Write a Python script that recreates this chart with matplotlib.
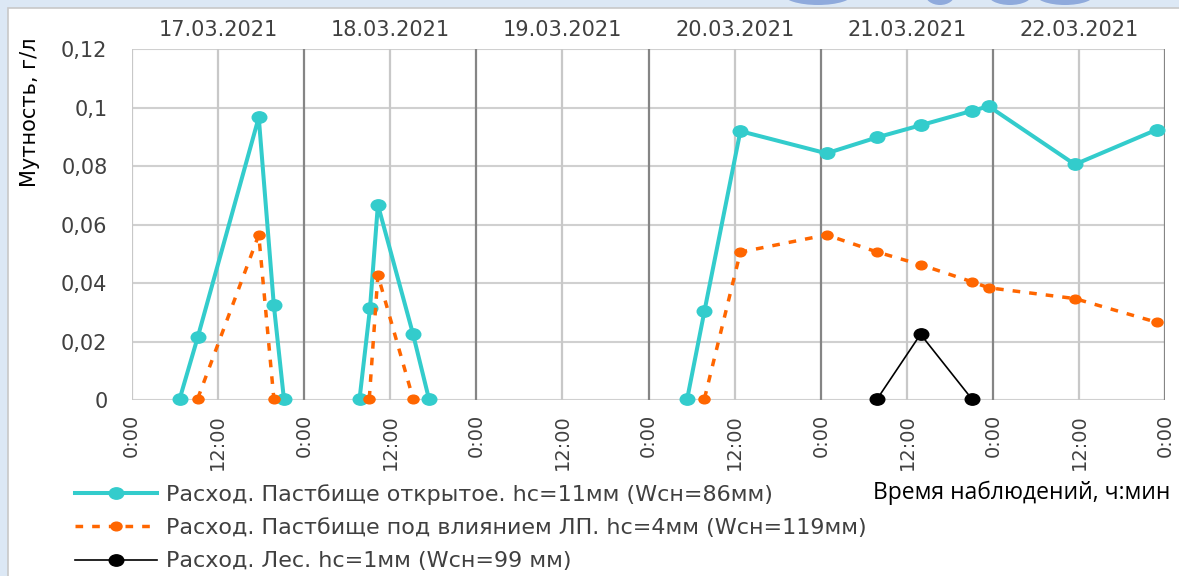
import numpy as np
import matplotlib
matplotlib.use("Agg")
import matplotlib.pyplot as plt
from matplotlib.path import Path
from matplotlib.lines import Line2D
from matplotlib.patches import Rectangle, Ellipse
import matplotlib.transforms as mtransforms

plt.rcParams['font.family'] = ['DejaVu Sans']

# ---- data (hours since 17.03.2021 0:00) ----
dates = ["17.03.2021", "18.03.2021", "19.03.2021", "20.03.2021", "21.03.2021", "22.03.2021"]
tick_hours = [0, 12, 24, 36, 48, 60, 72, 84, 96, 108, 120, 132, 144]
tick_labels = ["0:00", "12:00"] * 6 + ["0:00"]
y_ticks = [0, 0.02, 0.04, 0.06, 0.08, 0.1, 0.12]
y_labels = ["0", "0,02", "0,04", "0,06", "0,08", "0,1", "0,12"]

open_x = [6.7, 9.2, 17.7, 19.8, 21.2, np.nan, 31.75, 33.2, 34.3, 39.2, 41.4, np.nan,
          77.4, 79.8, 84.8, 96.8, 103.9, 109.9, 117.0, 119.4, 131.4, 142.8]
open_y = [0.0005, 0.0215, 0.0967, 0.0325, 0.0005, np.nan, 0.0005, 0.0314, 0.0668, 0.0225, 0.0005, np.nan,
          0.0005, 0.0305, 0.092, 0.0844, 0.0899, 0.094, 0.0989, 0.1005, 0.0806, 0.0925]

lp_x = [9.2, 17.7, 19.8, np.nan, 33.1, 34.3, 39.2, np.nan,
        79.8, 84.8, 96.8, 103.9, 109.9, 117.0, 119.4, 131.4, 142.8]
lp_y = [0.0005, 0.0565, 0.0005, np.nan, 0.0005, 0.0427, 0.0005, np.nan,
        0.0005, 0.0506, 0.0565, 0.0506, 0.0463, 0.0405, 0.0384, 0.0347, 0.0266]

forest_x = [103.9, 109.9, 117.0]
forest_y = [0.0005, 0.0225, 0.0005]

labels = ["Расход. Пастбище открытое. hc=11мм (Wсн=86мм)",
          "Расход. Пастбище под влиянием ЛП. hc=4мм (Wсн=119мм)",
          "Расход. Лес. hc=1мм (Wсн=99 мм)"]

TEAL = "#33CCCC"
ORANGE = "#FF6600"
TXT = "#404040"

# elliptical marker (wider than tall)
circ = Path.unit_circle()
ell = Path(circ.vertices * np.array([1.0, 0.78]), circ.codes)

W, H = 1179, 576
fig = plt.figure(figsize=(W / 100, H / 100), dpi=100)
fig.patch.set_facecolor("#DCE8F5")
# faint watermark shapes in top strip
for cx, w in [(818, 70), (940, 30), (1010, 45), (1065, 60)]:
    fig.patches.append(Ellipse((cx / W, 1 + 6 / H), w / W, 22 / H, transform=fig.transFigure,
                               facecolor="#8FAADC", edgecolor="none", zorder=0.5))
# white chart area with gray border
fig.patches.append(Rectangle((8 / W, -0.01), 1, 1 + 0.01 - 8 / H, transform=fig.transFigure,
                             facecolor="white", edgecolor="#C8C8C8", lw=1.2, zorder=0.6))

x0, x1, ytop, ybot = 131.7, 1165.3, 49.3, 400.0
ax = fig.add_axes([x0 / W, 1 - ybot / H, (x1 - x0) / W, (ybot - ytop) / H])
ax.set_zorder(2)
ax.set_facecolor("none")
ax.set_xlim(0, 144)
ax.set_ylim(0, 0.12)
for s in ax.spines.values():
    s.set_visible(False)

# grid
for yv in y_ticks:
    ax.axhline(yv, color="#D0D0D0", lw=1.5, zorder=1)
for h in tick_hours:
    if h % 24 == 0 and h != 0:
        ax.axvline(h, color="#858585", lw=1.6, zorder=1.2)
    else:
        ax.axvline(h, color="#C8C8C8", lw=1.6, zorder=1.1)

ax.set_xticks(tick_hours)
ax.set_xticklabels(tick_labels, rotation=90, fontsize=14, color=TXT)
ax.set_yticks(y_ticks)
ax.set_yticklabels(y_labels, fontsize=15, color=TXT)
ax.tick_params(axis="both", length=0)
ax.tick_params(axis="x", pad=10)
ax.tick_params(axis="y", pad=17.5)

ax.plot(open_x, open_y, color=TEAL, lw=2.9, marker=ell, ms=10.5, mec=TEAL, mfc=TEAL,
        clip_on=False, zorder=3)
ax.plot(lp_x, lp_y, color=ORANGE, lw=2.5, ls=(0, (2.2, 2.6)), marker=ell, ms=8,
        mec=ORANGE, mfc=ORANGE, clip_on=False, zorder=4)
ax.plot(forest_x, forest_y, color="black", lw=1.2, marker=ell, ms=10.5, mec="black", mfc="black",
        clip_on=False, zorder=5)

# date labels above each day
trans = mtransforms.blended_transform_factory(ax.transData, fig.transFigure)
for i, d in enumerate(dates):
    ax.text(24 * i + 12, 1 - 30 / H, d, transform=trans, ha="center", va="center",
            fontsize=15, color=TXT)

fig.text(30 / W, 1 - 112 / H, "Мутность, г/л", rotation=90, ha="center", va="center",
         fontsize=15, color="black")
fig.text(1170 / W, 1 - 493 / H, "Время наблюдений, ч:мин", ha="right", va="center",
         fontsize=16.5, color="black", family="Open Sans")

handles = [
    Line2D([], [], color=TEAL, lw=2.9, marker=ell, ms=10.5, mec=TEAL, mfc=TEAL),
    Line2D([], [], color=ORANGE, lw=2.5, ls=(0, (2.2, 2.6)), marker=ell, ms=8, mec=ORANGE, mfc=ORANGE),
    Line2D([], [], color="black", lw=1.2, marker=ell, ms=10.5, mec="black", mfc="black"),
]
leg = fig.legend(handles, labels, loc="upper left", bbox_to_anchor=(75 / W, 1 - 484 / H),
                 frameon=False, handlelength=3.7, handletextpad=0.4,
                 labelspacing=0.6, borderaxespad=0, borderpad=0,
                 prop={"family": "DejaVu Sans", "size": 16})
for t in leg.get_texts():
    t.set_color(TXT)

fig.savefig("out.png", dpi=100)
